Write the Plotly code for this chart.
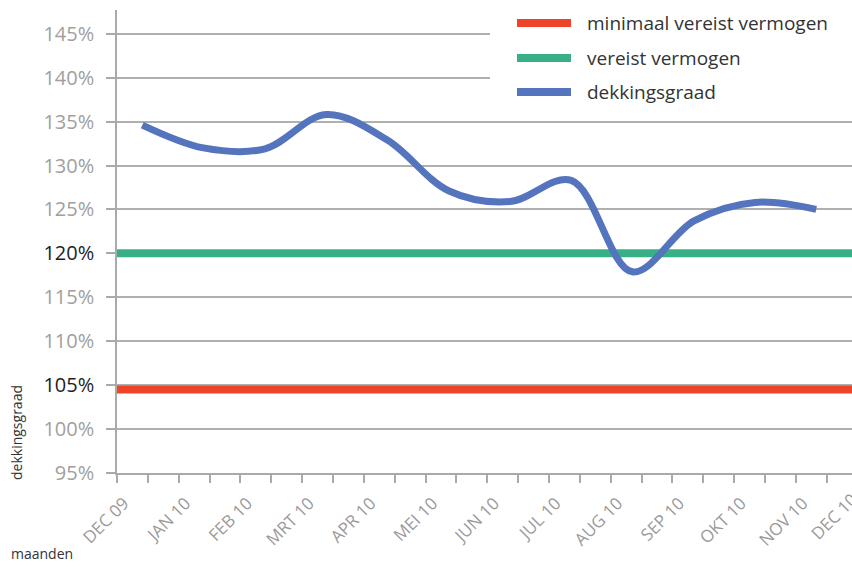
import plotly.graph_objects as go

# ---- data ----
month_labels = ["DEC 09", "JAN 10", "FEB 10", "MRT 10", "APR 10", "MEI 10", "JUN 10",
                "JUL 10", "AUG 10", "SEP 10", "OKT 10", "NOV 10", "DEC 10"]
month_pos = list(range(len(month_labels)))

# dekkingsgraad observations (x in month units from DEC 09)
dek_x = [0.41, 1.40, 2.40, 3.39, 4.38, 5.38, 6.37, 7.36, 8.35, 9.35, 10.34, 11.33]
dek_y = [134.6, 132.0, 131.9, 135.8, 132.9, 127.1, 125.9, 128.3, 117.9, 123.7, 125.8, 125.0]

vereist_value = 120.0
minimaal_value = 104.5

y_ticks = [95, 100, 105, 110, 115, 120, 125, 130, 135, 140, 145]
y_dark = [105, 120]

series_names = ["minimaal vereist vermogen", "vereist vermogen", "dekkingsgraad"]
colors = {"minimaal vereist vermogen": "#ef4427",
          "vereist vermogen": "#38b085",
          "dekkingsgraad": "#5474be"}

X_MAX = 11.91
FONT = "Open Sans"

fig = go.Figure()
fig.add_trace(go.Scatter(x=[0, X_MAX], y=[minimaal_value, minimaal_value], mode="lines",
                         line=dict(color=colors["minimaal vereist vermogen"], width=8),
                         name=series_names[0], showlegend=False, hoverinfo="skip"))
fig.add_trace(go.Scatter(x=[0, X_MAX], y=[vereist_value, vereist_value], mode="lines",
                         line=dict(color=colors["vereist vermogen"], width=8),
                         name=series_names[1], showlegend=False, hoverinfo="skip"))
fig.add_trace(go.Scatter(x=dek_x, y=dek_y, mode="lines",
                         line=dict(color=colors["dekkingsgraad"], width=7, shape="spline", smoothing=1.0),
                         name=series_names[2], showlegend=False))

ytext = []
for v in y_ticks:
    if v in y_dark:
        ytext.append(f"<span style='color:#1e1e1e'>{v}%</span>")
    else:
        ytext.append(f"{v}%")

fig.update_layout(
    width=852, height=567,
    margin=dict(l=117, r=0, t=10, b=94),
    paper_bgcolor="white", plot_bgcolor="white",
    font=dict(family=FONT, color="#333333"),
    showlegend=False,
    xaxis=dict(range=[0, X_MAX], tickmode="array", tickvals=month_pos, ticktext=month_labels,
               tickangle=-45, tickfont=dict(size=17, color="#9a9a9a", family=FONT),
               ticklabelshift=7, ticklabelstandoff=4,
               showgrid=False, zeroline=False, showline=True, linecolor="#aaaaaa", linewidth=1.5,
               ticks="outside", ticklen=8, tickcolor="#aaaaaa", tickwidth=1.5, automargin=False,
               minor=dict(dtick=0.5, tick0=0, ticks="outside", ticklen=8, tickcolor="#aaaaaa", tickwidth=1.5, showgrid=False)),
    yaxis=dict(range=[95, 147.7], tickmode="array", tickvals=y_ticks, ticktext=ytext,
               tickfont=dict(size=20, color="#a0a0a0", family=FONT),
               showgrid=True, gridcolor="#b0b0b0", gridwidth=1.5, zeroline=False,
               showline=True, linecolor="#aaaaaa", linewidth=1.5, automargin=False,
               ticks="outside", ticklen=9, tickcolor="#aaaaaa", tickwidth=1.5, ticklabelstandoff=8),
)

# legend drawn manually
shapes = [dict(type="rect", xref="paper", yref="paper", x0=(490 - 117) / 735, x1=1.0,
               y0=(473 - 108) / 463, y1=1.0, fillcolor="white", line=dict(width=0), layer="above")]
annotations = []
legend_rows_y = [23, 58, 92]
for name, yy in zip(series_names, legend_rows_y):
    yp = (473 - yy) / 463
    shapes.append(dict(type="line", xref="paper", yref="paper",
                       x0=(517 - 117) / 735, x1=(571 - 117) / 735, y0=yp, y1=yp,
                       line=dict(color=colors[name], width=8), layer="above"))
    annotations.append(dict(text=name, xref="paper", yref="paper", x=(585 - 117) / 735, y=yp,
                            xanchor="left", yanchor="middle", showarrow=False,
                            font=dict(size=19, color="#333333", family=FONT)))

annotations.append(dict(text="dekkingsgraad", xref="paper", yref="paper",
                        x=(16 - 117) / 735, y=(473 - 433) / 463, textangle=-90,
                        xanchor="center", yanchor="middle", showarrow=False,
                        font=dict(size=14, color="#333333", family=FONT)))
annotations.append(dict(text="maanden", xref="paper", yref="paper",
                        x=(9 - 117) / 735, y=(473 - 553) / 463,
                        xanchor="left", yanchor="middle", showarrow=False,
                        font=dict(size=14, color="#333333", family=FONT)))
# label for DEC 10 month (its tick lies just past the right edge)
annotations.append(dict(text=month_labels[-1], xref="paper", yref="paper",
                        x=(12 / X_MAX) + 7 / 735, y=(473 - 486) / 463, textangle=-45,
                        xanchor="right", yanchor="top", showarrow=False,
                        font=dict(size=17, color="#9a9a9a", family=FONT)))

fig.update_layout(shapes=shapes, annotations=annotations)
fig.write_html("out.html", config={"displayModeBar": False},
               post_script="document.body.style.margin='0';document.body.style.overflow='hidden';")
